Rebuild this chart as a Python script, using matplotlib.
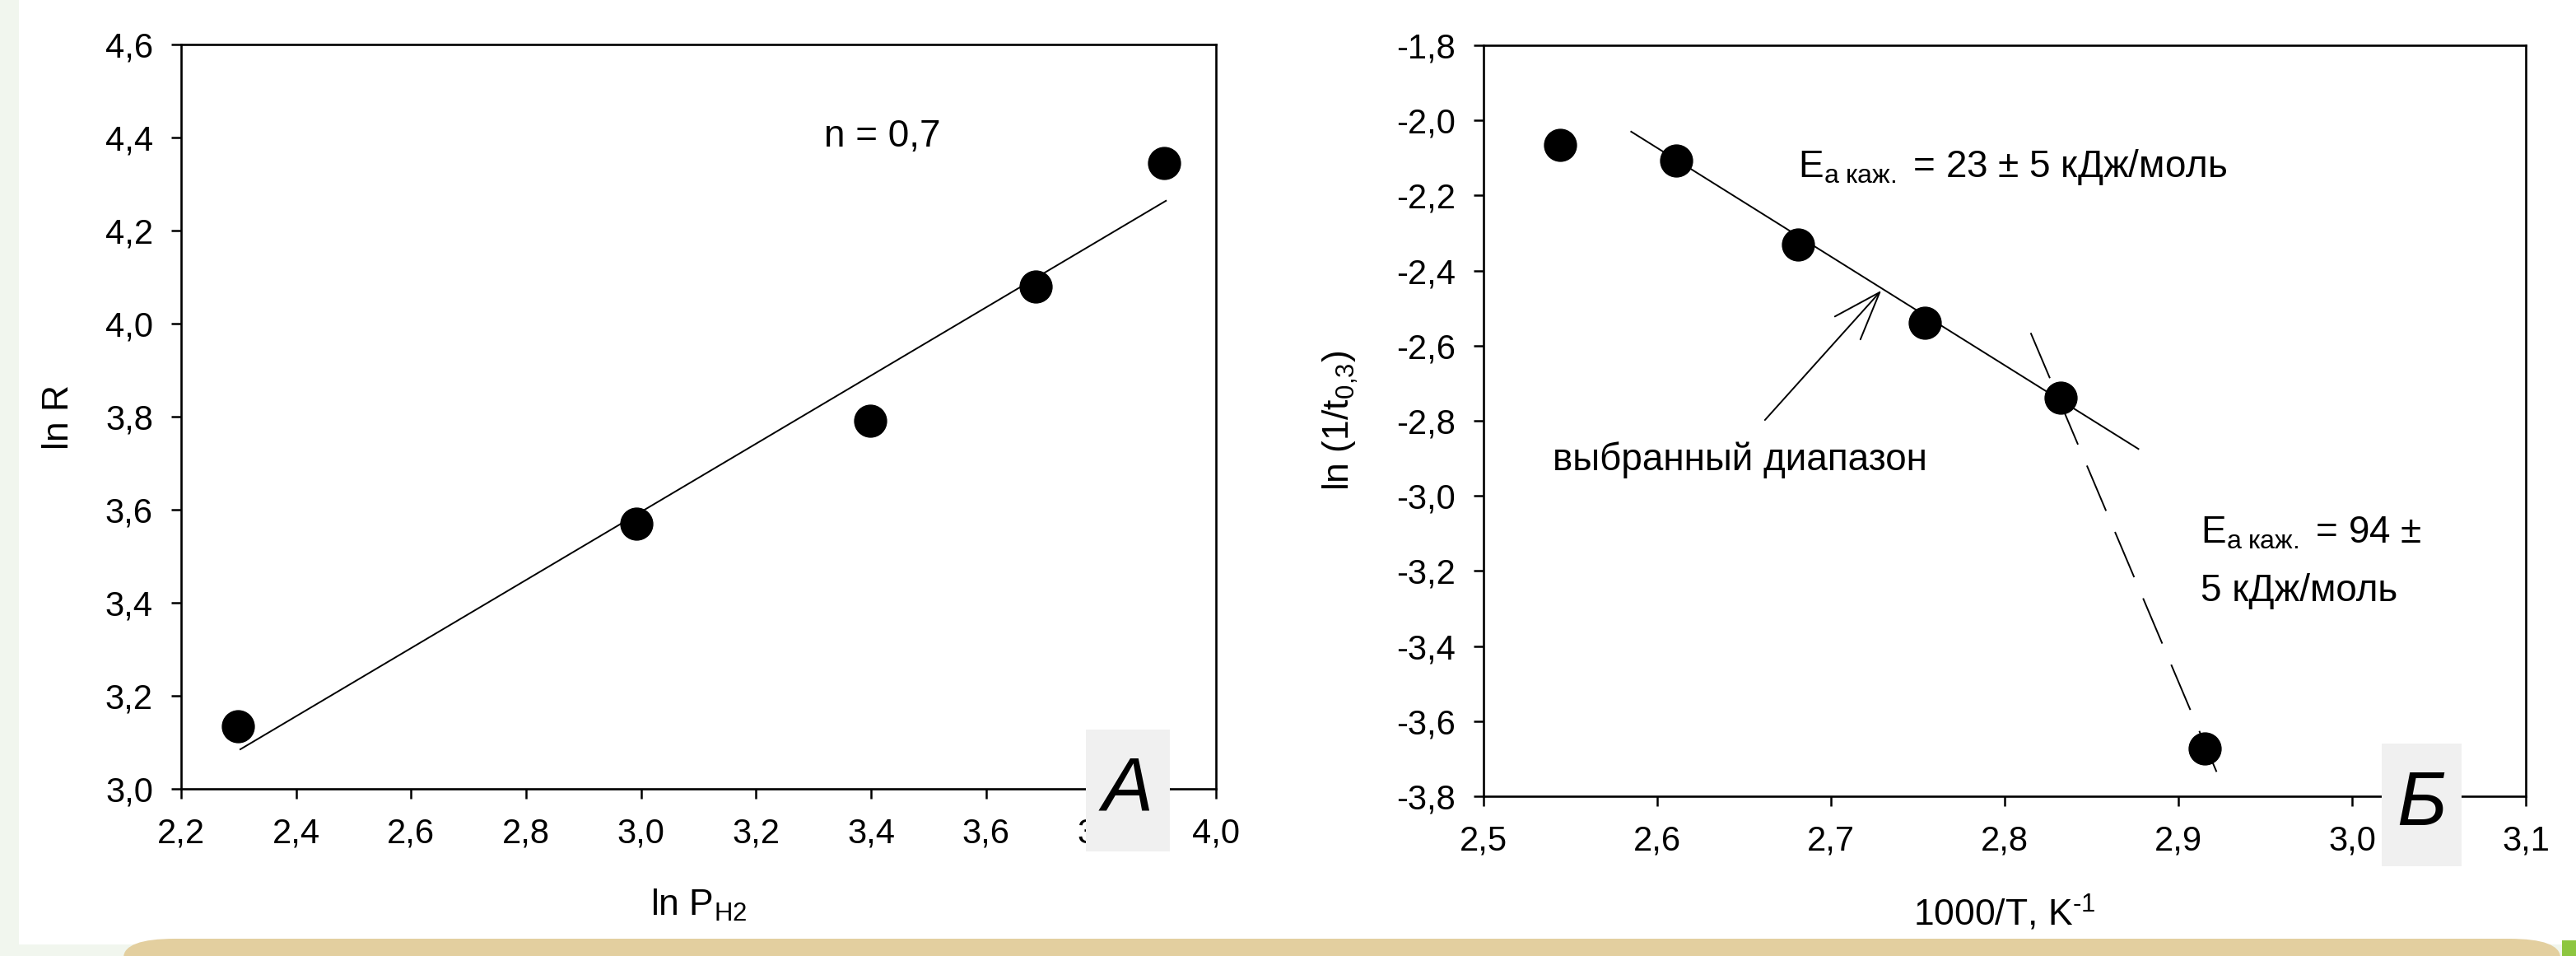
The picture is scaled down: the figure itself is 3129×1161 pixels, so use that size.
import numpy as np
import matplotlib
matplotlib.use("Agg")
import matplotlib.pyplot as plt
from matplotlib.patches import Rectangle, FancyBboxPatch

# ---------------- data ----------------
# panel A : ln R vs ln P(H2)
lnP = [2.299, 2.992, 3.398, 3.687, 3.910]
lnR = [3.134, 3.570, 3.792, 4.079, 4.346]
fitA_x = [2.303, 3.913]
fitA_y = [3.085, 4.264]

# panel B : ln(1/t0.3) vs 1000/T
invT = [2.544, 2.611, 2.681, 2.754, 2.832, 2.915]
lnInvT = [-2.065, -2.108, -2.331, -2.539, -2.738, -3.673]
fitB1_x = [2.585, 2.877]
fitB1_y = [-2.030, -2.875]
fitB2_x = [2.815, 2.922]
fitB2_y = [-2.566, -3.735]

xticksA = [2.2, 2.4, 2.6, 2.8, 3.0, 3.2, 3.4, 3.6, 3.8, 4.0]
yticksA = [3.0, 3.2, 3.4, 3.6, 3.8, 4.0, 4.2, 4.4, 4.6]
xticksB = [2.5, 2.6, 2.7, 2.8, 2.9, 3.0, 3.1]
yticksB = [-1.8, -2.0, -2.2, -2.4, -2.6, -2.8, -3.0, -3.2, -3.4, -3.6, -3.8]

plt.rcParams['font.family'] = ['Liberation Sans', 'DejaVu Sans']
plt.rcParams['mathtext.fontset'] = 'custom'
plt.rcParams['mathtext.rm'] = 'Liberation Sans'
plt.rcParams['mathtext.it'] = 'Liberation Sans:italic'
plt.rcParams['mathtext.default'] = 'regular'
plt.rcParams['lines.scale_dashes'] = False

W, H = 3129, 1161
fig = plt.figure(figsize=(W / 100, H / 100), dpi=100)
fig.patch.set_facecolor('#f1f6ee')

# background pieces (white slide area, beige strip, green corner)
fig.add_artist(Rectangle((23 / W, 1 - 1147 / H), 1, 1147 / H, transform=fig.transFigure,
                         facecolor='white', edgecolor='none', zorder=-5))
fig.add_artist(FancyBboxPatch((150 / W, -0.05), (3110 - 150) / W, (0.05 + (1161 - 1140) / H),
                              boxstyle='round,pad=0,rounding_size=0.02', transform=fig.transFigure,
                              facecolor='#e3cf9f', edgecolor='none', zorder=-4))
fig.add_artist(Rectangle((3112 / W, 0), 1, (1161 - 1142) / H, transform=fig.transFigure,
                         facecolor='#8dc63f', edgecolor='none', zorder=-4))


def px_axes(x0, x1, ytop, ybot):
    return fig.add_axes([x0 / W, 1 - ybot / H, (x1 - x0) / W, (ybot - ytop) / H])


def comma(v):
    return f"{v:.1f}".replace('.', ',')


def style(ax):
    for s in ax.spines.values():
        s.set_linewidth(1.9)
    ax.tick_params(direction='out', length=8.6, width=1.8, labelsize=30, pad=16,
                   top=False, right=False)


# ---------------- panel A ----------------
axA = px_axes(220, 1477, 54, 958)
axA.plot(fitA_x, fitA_y, color='k', lw=1.4)
axA.plot(lnP, lnR, 'o', color='k', ms=28)
axA.set_xlim(2.2, 4.0)
axA.set_ylim(3.0, 4.6)
axA.set_xticks(xticksA)
axA.set_xticklabels([comma(v) for v in xticksA])
axA.set_yticks(yticksA)
axA.set_yticklabels([comma(v) for v in yticksA])
style(axA)
axA.set_xlabel(r'ln P$_{H2}$', fontsize=32)
axA.xaxis.set_label_coords(0.5, -0.156)
axA.xaxis.label.set_va('center')
axA.set_ylabel('ln R', fontsize=32)
axA.yaxis.set_label_coords(-0.118, 0.5)
axA.yaxis.label.set_va('center')
axA.text(3.319, 4.381, 'n = 0,7', fontsize=33, ha='left', va='baseline')

# ---------------- panel B ----------------
axB = px_axes(1802, 3068, 55, 967)
axB.plot(fitB1_x, fitB1_y, color='k', lw=1.4)
axB.plot(fitB2_x, fitB2_y, color='k', lw=1.4, dashes=(43, 20))
axB.plot(invT, lnInvT, 'o', color='k', ms=28)
axB.set_xlim(2.5, 3.1)
axB.set_ylim(-3.8, -1.8)
axB.set_xticks(xticksB)
axB.set_xticklabels([comma(v) for v in xticksB])
axB.set_yticks(yticksB)
axB.set_yticklabels([comma(v) for v in yticksB])
style(axB)
axB.set_xlabel('1000/T, K$^{\u2010' + '1}$', fontsize=32)
axB.xaxis.set_label_coords(0.5, -0.156)
axB.xaxis.label.set_va('center')
axB.set_ylabel(r'ln (1/t$_{0{,}3}$)', fontsize=32)
axB.yaxis.set_label_coords(-0.137, 0.5)
axB.yaxis.label.set_va('center')

axB.text(2.681, -2.151, r'E$_{а\ каж.}$ = 23 ± 5 кДж/моль', fontsize=33, ha='left', va='baseline')
axB.text(2.913, -3.125, r'E$_{а\ каж.}$ = 94 ±', fontsize=33, ha='left', va='baseline')
axB.text(2.913, -3.280, '5 кДж/моль', fontsize=33, ha='left', va='baseline')
axB.text(2.540, -2.932, 'выбранный диапазон', fontsize=33, ha='left', va='baseline')
axB.annotate('', xy=(2.729, -2.453), xytext=(2.662, -2.798),
             arrowprops=dict(arrowstyle='->,head_length=4.2,head_width=1.5',
                             lw=1.4, color='k', shrinkA=0, shrinkB=0))

# ---------------- panel letters ----------------
for (bx0, bx1, by0, by1, letter) in [(1319, 1421, 886, 1034, 'A'), (2893, 2990, 903, 1052, 'Б')]:
    fig.add_artist(Rectangle((bx0 / W, 1 - by1 / H), (bx1 - bx0) / W, (by1 - by0) / H,
                             transform=fig.transFigure, facecolor='#f0f0f0',
                             edgecolor='none', zorder=10))
    fig.text((bx0 + bx1) / 2 / W, 1 - (by0 + by1) / 2 / H, letter, fontsize=67,
             style='italic', ha='center', va='center', zorder=11)

fig.savefig('out.png', dpi=100, facecolor=fig.get_facecolor())
